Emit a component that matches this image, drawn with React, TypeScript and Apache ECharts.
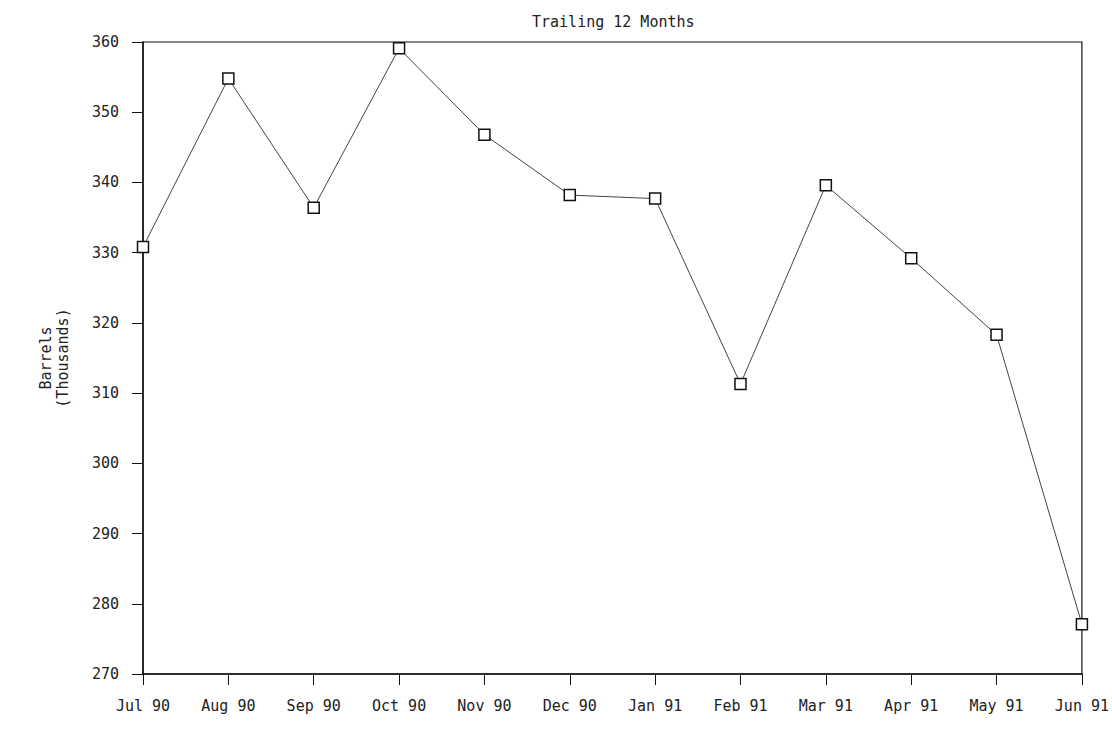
import React, { useEffect, useRef } from "react";
import * as echarts from "echarts";

const titleText = "Trailing 12 Months";
const yAxisName = "Barrels\n(Thousands)";
const months = [
  "Jul 90", "Aug 90", "Sep 90", "Oct 90", "Nov 90", "Dec 90",
  "Jan 91", "Feb 91", "Mar 91", "Apr 91", "May 91", "Jun 91",
];
const barrels = [
  330.8, 354.8, 336.4, 359.1, 346.8, 338.2,
  337.7, 311.3, 339.6, 329.2, 318.3, 277.1,
];
const yMin = 270;
const yMax = 360;
const yStep = 10;

const FONT = "DejaVu Sans Mono";
const INK = "#222";

export default function App() {
  const ref = useRef<HTMLDivElement>(null);

  useEffect(() => {
    if (!ref.current) return;
    const chart = echarts.init(ref.current, undefined, { renderer: "svg" });
    chart.setOption({
      animation: false,
      backgroundColor: "#ffffff",
      title: {
        text: titleText,
        left: 527,
        top: 9,
        textStyle: {
          fontFamily: FONT,
          fontSize: 15,
          fontWeight: "normal",
          color: INK,
        },
      },
      grid: {
        left: 143,
        top: 42,
        width: 948,
        height: 632,
        show: true,
        borderColor: "#111",
        borderWidth: 1.2,
        backgroundColor: "transparent",
      },
      xAxis: {
        type: "category",
        data: months,
        boundaryGap: false,
        axisLine: { show: true, lineStyle: { color: "#111", width: 1.5 } },
        axisTick: {
          show: true,
          alignWithLabel: true,
          length: 11,
          lineStyle: { color: "#111", width: 1 },
        },
        axisLabel: {
          margin: 24,
          fontFamily: FONT,
          fontSize: 15,
          color: INK,
          interval: 0,
        },
        splitLine: { show: false },
      },
      yAxis: {
        type: "value",
        min: yMin,
        max: yMax,
        interval: yStep,
        name: yAxisName,
        nameLocation: "middle",
        nameRotate: 90,
        nameGap: 72,
        nameTextStyle: {
          fontFamily: FONT,
          fontSize: 15,
          color: INK,
          lineHeight: 17,
          align: "center",
        },
        axisLine: { show: true, lineStyle: { color: "#111", width: 1.5 } },
        axisTick: { show: true, length: 11, lineStyle: { color: "#111", width: 1 } },
        axisLabel: {
          margin: 24,
          fontFamily: FONT,
          fontSize: 15,
          color: INK,
        },
        splitLine: { show: false },
      },
      series: [
        {
          type: "line",
          data: barrels,
          symbol: "rect",
          symbolSize: 11,
          showAllSymbol: true,
          lineStyle: { color: "#444", width: 1 },
          itemStyle: { color: "#ffffff", borderColor: "#111", borderWidth: 1.5 },
          z: 3,
        },
      ],
    });
    return () => chart.dispose();
  }, []);

  return (
    <div
      ref={ref}
      style={{
        position: "fixed",
        left: 0,
        top: 0,
        width: 1112,
        height: 734,
        background: "#fff",
      }}
    />
  );
}
